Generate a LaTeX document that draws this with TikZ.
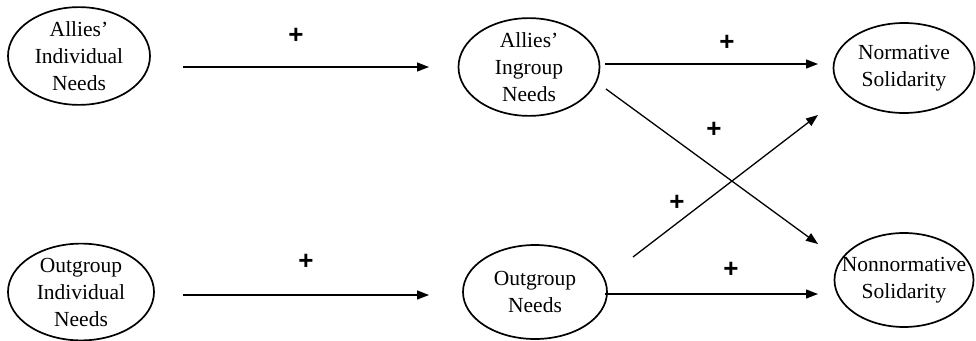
\documentclass[tikz,border=0pt]{standalone}
\usepackage{fontspec}
\setmainfont{Liberation Serif}
\newfontfamily\plusfont{Liberation Sans}
\usetikzlibrary{shapes.geometric,arrows.meta}
\begin{document}
\begin{tikzpicture}[x=1pt,y=-1pt,
  var/.style={ellipse,draw,line width=1.7pt,inner sep=0pt,align=center,
    font=\fontsize{21.5}{27}\selectfont},
  conn/.style={line width=1.3pt,-{Triangle[length=12pt,width=9pt]}},
  sign/.style={font=\plusfont\bfseries\fontsize{26}{26}\selectfont}]
\useasboundingbox (0,0) rectangle (976,340);
\node[var,minimum width=142pt,minimum height=95pt] (aind) at (79,56) {Allies'\\Individual\\Needs};
\node[var,minimum width=141pt,minimum height=95pt] (aing) at (529,67) {Allies'\\Ingroup\\Needs};
\node[var,minimum width=141pt,minimum height=90pt] (norm) at (904,68) {Normative\\Solidarity};
\node[var,minimum width=146pt,minimum height=86pt] (oind) at (81,292) {Outgroup\\Individual\\Needs};
\node[var,minimum width=144pt,minimum height=94pt] (oneed) at (535,292) {Outgroup\\Needs};
\node[var,inner xsep=-30pt,minimum width=139pt,minimum height=94pt] (nonn) at (904,280) {Nonnormative\\Solidarity};
\coordinate (a1s) at (183,67);  \coordinate (a1e) at (429,67);
\coordinate (a2s) at (605,64);  \coordinate (a2e) at (818,64);
\coordinate (a3s) at (606,89);  \coordinate (a3e) at (818,244);
\coordinate (a4s) at (633,257); \coordinate (a4e) at (818,115);
\coordinate (a5s) at (183,295); \coordinate (a5e) at (429,295);
\coordinate (a6s) at (605,294); \coordinate (a6e) at (818,294);
\draw[conn] (a1s) -- (a1e);
\draw[conn] (a2s) -- (a2e);
\draw[conn] (a3s) -- (a3e);
\draw[conn] (a4s) -- (a4e);
\draw[conn] (a5s) -- (a5e);
\draw[conn] (a6s) -- (a6e);
\node[sign] (p1) at (296,36) {+};
\node[sign] (p2) at (727,43) {+};
\node[sign] (p3) at (714,130) {+};
\node[sign] (p4) at (677,203) {+};
\node[sign] (p5) at (306,262) {+};
\node[sign] (p6) at (731,270) {+};
\end{tikzpicture}
\end{document}
